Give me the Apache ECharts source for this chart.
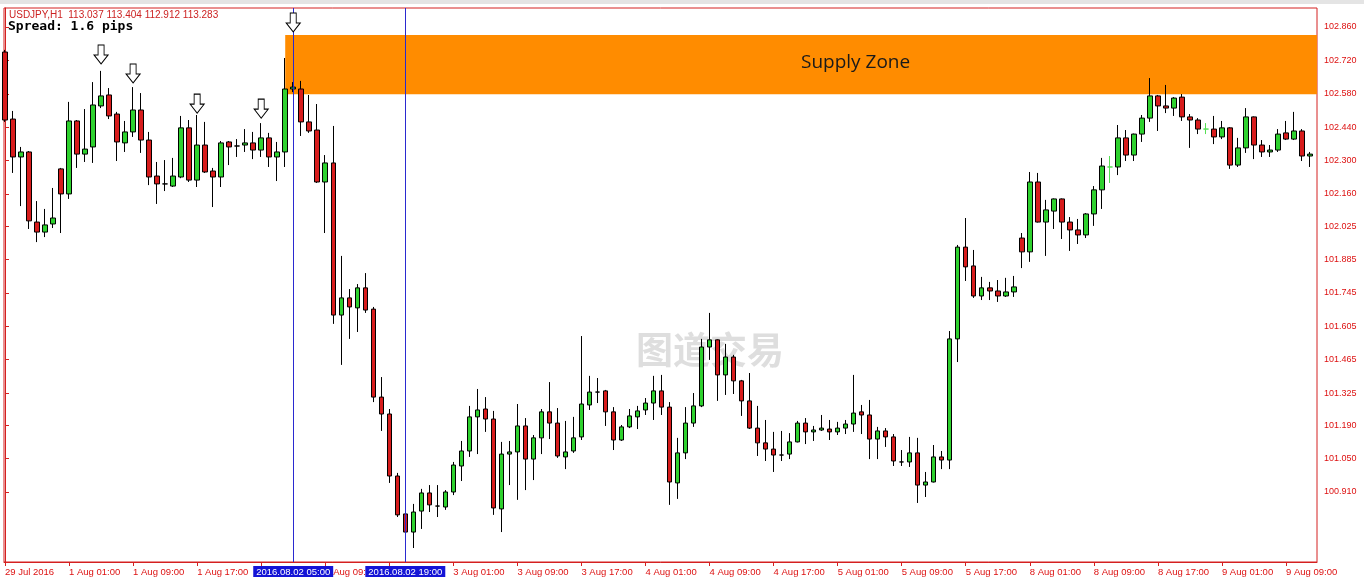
<!DOCTYPE html>
<html><head><meta charset="utf-8">
<script src="https://cdn.jsdelivr.net/npm/echarts@6/dist/echarts.min.js"></script>
<style>html,body{margin:0;padding:0;background:#fff}#c{width:1364px;height:582px}</style>
</head><body><div id="c"></div>
<script>
// USDJPY H1 candles, index 0 = 29 Jul 2016 17:00 ... 163 = 9 Aug 2016 12:00
const OPEN = [
102.755,102.474,102.315,102.336,102.042,102.000,102.034,102.265,102.160,102.466,
102.327,102.357,102.529,102.575,102.495,102.374,102.420,102.512,102.386,102.235,
102.202,102.193,102.231,102.437,102.218,102.365,102.256,102.231,102.378,102.361,
102.365,102.374,102.344,102.395,102.315,102.336,102.600,102.600,102.462,102.428,
102.210,102.290,101.652,101.724,101.682,101.766,101.677,101.308,101.237,100.977,
100.818,100.742,100.830,100.906,100.851,100.847,100.910,101.019,101.082,101.225,
101.258,101.216,100.839,101.069,101.078,101.187,101.048,101.137,101.246,101.199,
101.057,101.082,101.141,101.275,101.329,101.334,101.246,101.128,101.183,101.225,
101.254,101.283,101.334,101.266,100.948,101.074,101.199,101.271,101.518,101.548,
101.401,101.476,101.376,101.292,101.178,101.116,101.090,101.065,101.069,101.120,
101.199,101.162,101.170,101.174,101.162,101.178,101.195,101.246,101.233,101.132,
101.166,101.141,101.036,101.036,101.074,100.939,100.952,101.057,101.044,101.552,
101.937,101.858,101.732,101.766,101.753,101.732,101.749,101.975,101.917,102.210,
102.042,102.088,102.139,102.042,102.009,101.988,102.076,102.177,102.273,102.273,
102.395,102.323,102.411,102.478,102.571,102.529,102.520,102.566,102.483,102.470,
102.432,102.432,102.399,102.437,102.281,102.353,102.483,102.365,102.336,102.344,
102.416,102.390,102.424,102.319];
const HIGH = [
102.764,102.508,102.357,102.340,102.130,102.097,102.185,102.269,102.546,102.470,
102.516,102.629,102.676,102.604,102.504,102.466,102.608,102.583,102.420,102.294,
102.302,102.311,102.487,102.470,102.491,102.462,102.269,102.382,102.382,102.390,
102.432,102.420,102.457,102.416,102.378,102.730,102.629,102.634,102.575,102.537,
102.323,102.445,101.900,101.761,101.782,101.828,101.686,101.392,101.258,100.990,
100.826,100.860,100.923,100.939,100.939,100.918,101.036,101.124,101.271,101.342,
101.308,101.250,101.120,101.124,101.279,101.220,101.149,101.258,101.371,101.262,
101.208,101.225,101.564,101.397,101.388,101.338,101.266,101.191,101.258,101.271,
101.304,101.397,101.401,101.287,101.137,101.266,101.325,101.552,101.661,101.550,
101.531,101.485,101.380,101.409,101.271,101.212,101.162,101.166,101.157,101.208,
101.220,101.187,101.233,101.212,101.204,101.212,101.401,101.275,101.296,101.183,
101.178,101.153,101.086,101.141,101.137,100.994,101.107,101.082,101.585,101.946,
102.059,101.925,101.812,101.791,101.799,101.808,101.816,101.996,102.252,102.248,
102.135,102.141,102.141,102.063,102.055,102.080,102.193,102.311,102.319,102.449,
102.428,102.413,102.491,102.646,102.575,102.617,102.566,102.579,102.495,102.478,
102.457,102.487,102.466,102.440,102.395,102.520,102.485,102.386,102.365,102.432,
102.466,102.504,102.432,102.336];
const LOW = [
102.462,102.248,102.109,102.013,101.958,101.979,102.017,101.996,102.139,102.269,
102.294,102.290,102.520,102.474,102.298,102.336,102.399,102.332,102.197,102.118,
102.172,102.189,102.226,102.210,102.189,102.248,102.105,102.189,102.281,102.315,
102.336,102.306,102.315,102.273,102.214,102.273,102.587,102.403,102.416,102.206,
101.996,101.615,101.443,101.552,101.581,101.661,101.287,101.166,100.948,100.805,
100.709,100.675,100.755,100.826,100.805,100.835,100.897,100.956,101.057,101.069,
101.162,100.814,100.742,100.939,100.877,100.918,100.960,101.069,101.132,101.053,
101.006,101.074,101.128,101.254,101.283,101.187,101.086,101.124,101.178,101.174,
101.233,101.212,101.233,100.856,100.881,101.048,101.183,101.266,101.464,101.292,
101.317,101.321,101.229,101.174,101.061,101.040,100.994,101.040,101.048,101.118,
101.111,101.124,101.166,101.128,101.149,101.153,101.162,101.153,101.048,101.048,
101.099,101.019,101.019,101.015,100.864,100.889,100.950,101.006,101.006,101.455,
101.795,101.724,101.715,101.715,101.707,101.728,101.728,101.849,101.875,102.040,
101.900,102.013,101.971,101.921,101.950,101.975,102.026,102.097,102.206,102.239,
102.298,102.298,102.378,102.462,102.424,102.499,102.487,102.466,102.353,102.411,
102.411,102.369,102.390,102.265,102.273,102.332,102.306,102.315,102.315,102.336,
102.386,102.386,102.298,102.273];
const CLOSE = [
102.470,102.315,102.336,102.047,102.000,102.030,102.059,102.160,102.466,102.327,
102.348,102.533,102.571,102.487,102.378,102.420,102.512,102.386,102.231,102.202,
102.202,102.235,102.437,102.218,102.365,102.252,102.231,102.374,102.357,102.361,
102.374,102.344,102.395,102.315,102.336,102.600,102.608,102.462,102.424,102.210,
102.290,101.652,101.724,101.686,101.766,101.673,101.308,101.237,100.977,100.814,
100.742,100.826,100.906,100.856,100.851,100.910,101.023,101.082,101.225,101.254,
101.216,100.843,101.069,101.078,101.187,101.048,101.137,101.246,101.199,101.061,
101.078,101.137,101.279,101.329,101.329,101.246,101.128,101.183,101.229,101.250,
101.283,101.334,101.266,100.952,101.074,101.199,101.271,101.518,101.548,101.401,
101.476,101.376,101.292,101.178,101.116,101.090,101.065,101.065,101.120,101.199,
101.162,101.170,101.178,101.162,101.178,101.195,101.241,101.233,101.132,101.166,
101.141,101.040,101.036,101.074,100.939,100.952,101.057,101.044,101.552,101.937,
101.854,101.732,101.766,101.753,101.732,101.749,101.770,101.917,102.210,102.042,
102.093,102.139,102.042,102.009,101.988,102.076,102.177,102.277,102.273,102.395,
102.323,102.411,102.478,102.571,102.529,102.520,102.562,102.483,102.470,102.432,
102.432,102.399,102.437,102.281,102.353,102.483,102.365,102.336,102.344,102.411,
102.390,102.424,102.319,102.327];

const X_TICK_INDEX = [0,8,16,24,32,40,48,56,64,72,80,88,96,104,112,120,128,136,144,152,160];
const X_TICK_LABELS = ['29 Jul 2016','1 Aug 01:00','1 Aug 09:00','1 Aug 17:00','2 Aug 01:00','2 Aug 09:00','2 Aug 17:00',
  '3 Aug 01:00','3 Aug 09:00','3 Aug 17:00','4 Aug 01:00','4 Aug 09:00','4 Aug 17:00','5 Aug 01:00','5 Aug 09:00',
  '5 Aug 17:00','8 Aug 01:00','8 Aug 09:00','8 Aug 17:00','9 Aug 01:00','9 Aug 09:00'];
const Y_TICKS = [100.910,101.050,101.190,101.325,101.465,101.605,101.745,101.885,102.025,102.160,102.300,102.440,102.580,102.720,102.860];

const VLINE_IDX = [36, 50];
const VLINE_LABELS = ['2016.08.02 05:00', '2016.08.02 19:00'];
const ARROW_IDX = [12, 16, 24, 32, 36];
const ARROW_PRICE = [102.705, 102.625, 102.499, 102.478, 102.839];
const ZONE_START = 35, ZONE_TOP = 102.826, ZONE_BOTTOM = 102.578;
const LIGHT_DOJI = [138, 150];

const X_MIN = -0.125, X_MAX = 163.875, Y_MIN = 100.6164, Y_MAX = 102.9397;
const AXIS_RED = '#d42020', TXT_RED = '#dd1111', VLINE_BLUE = '#2a2ad0';

const candleData = OPEN.map((o, k) => {
  const item = { value: [k, o, CLOSE[k], LOW[k], HIGH[k]] };
  if (LIGHT_DOJI.includes(k)) item.itemStyle = { borderColor: '#55e055', borderColor0: '#55e055', borderColorDoji: '#55e055' };
  return item;
});

const chart = echarts.init(document.getElementById('c'));
chart.setOption({
  animation: false,
  backgroundColor: '#fff',
  grid: { left: 4, right: 47, top: 8, bottom: 20, show: true, borderColor: AXIS_RED, borderWidth: 1, outerBoundsMode: 'none', containLabel: false },
  xAxis: {
    type: 'value', min: X_MIN, max: X_MAX,
    axisLine: { show: true, onZero: false, lineStyle: { color: AXIS_RED } },
    axisTick: { show: true, customValues: X_TICK_INDEX, length: 4, lineStyle: { color: AXIS_RED } },
    axisLabel: { customValues: X_TICK_INDEX, formatter: v => X_TICK_LABELS[X_TICK_INDEX.indexOf(v)], align: 'left',
      color: TXT_RED, fontSize: 9.5, fontFamily: 'Liberation Sans', margin: 5, hideOverlap: false },
    splitLine: { show: false }
  },
  yAxis: {
    type: 'value', position: 'right', min: Y_MIN, max: Y_MAX, scale: true,
    axisLine: { show: true, lineStyle: { color: AXIS_RED } },
    axisTick: { show: true, customValues: Y_TICKS, length: 4, lineStyle: { color: AXIS_RED } },
    axisLabel: { customValues: Y_TICKS, formatter: v => v.toFixed(3), color: TXT_RED, fontSize: 9, fontFamily: 'Liberation Sans', margin: 7 },
    splitLine: { show: false }
  },
  series: [{
    type: 'candlestick',
    dimensions: ['idx', 'open', 'close', 'low', 'high'],
    encode: { x: 'idx', y: ['open', 'close', 'low', 'high'] },
    data: candleData,
    barWidth: 5,
    itemStyle: { color: '#2ed12e', color0: '#d71c1c', borderColor: '#000', borderColor0: '#000', borderColorDoji: '#000', borderWidth: 1 },
    markArea: {
      silent: true,
      itemStyle: { color: '#ff8c00', opacity: 1 },
      data: [[{ xAxis: ZONE_START, yAxis: ZONE_TOP }, { xAxis: X_MAX, yAxis: ZONE_BOTTOM }]]
    }
  }, {
    type: 'scatter',
    data: ARROW_IDX.map((k, i) => [k, ARROW_PRICE[i]]),
    symbol: 'path://M4,0H10V10H14L7,19L0,10H4Z',
    symbolSize: [14, 19],
    symbolOffset: [0, '-50%'],
    itemStyle: { color: '#fff', borderColor: '#000', borderWidth: 1, opacity: 1 },
    z: 6, clip: false, silent: true,
    markLine: {
      silent: true, symbol: ['none', 'none'], z: 5,
      lineStyle: { color: VLINE_BLUE, width: 1, type: 'solid', opacity: 1 },
      label: { show: true, position: 'start', distance: 4, color: '#fff', backgroundColor: '#1414d6', padding: [1, 3, 0, 3],
        fontSize: 9.5, fontFamily: 'Liberation Sans' },
      data: VLINE_IDX.map((k, i) => ({ xAxis: k, label: { formatter: VLINE_LABELS[i] }, lineStyle: { color: VLINE_BLUE } }))
    }
  }],
  graphic: [
    { type: 'rect', left: 0, top: 0, shape: { width: 1364, height: 4 }, style: { fill: '#e4e4e4' }, z: 100 },
    { type: 'text', left: 636, top: 331, z: 0, style: { text: '图道交易', fill: 'rgba(160,160,160,0.35)', font: 'bold 37px "Noto Sans CJK SC"' } },
    { type: 'text', left: 9, top: 10, z: 100, style: { text: 'USDJPY,H1  113.037 113.404 112.912 113.283', fill: '#cc2222', font: '10px "Liberation Sans"' } },
    { type: 'text', left: 8, top: 20, z: 100, style: { text: 'Spread: 1.6 pips', fill: '#000', font: 'bold 13px "DejaVu Sans Mono"' } },
    { type: 'text', left: 801, top: 53, z: 100, style: { text: 'Supply Zone', fill: '#1a1a1a', font: '19px "Open Sans"' } }
  ]
});
</script></body></html>
